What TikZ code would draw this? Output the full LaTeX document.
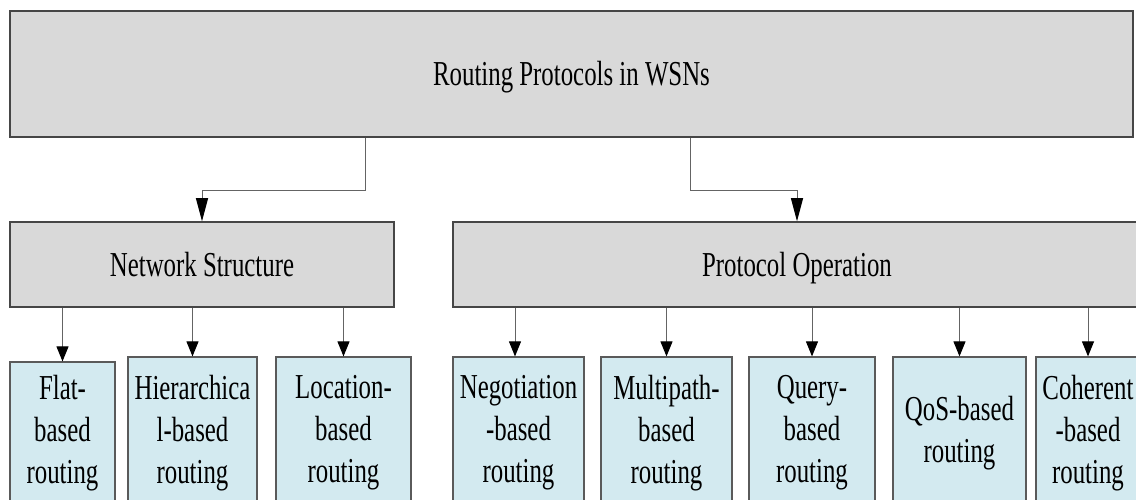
\documentclass[tikz,border=0pt]{standalone}
\usepackage{fontspec}
\setmainfont{Liberation Serif}[FakeStretch=0.71]
\usetikzlibrary{arrows.meta,calc}
\definecolor{boxgray}{RGB}{217,217,217}
\definecolor{leafblue}{RGB}{211,234,240}
\definecolor{edgegray}{RGB}{70,70,70}
\definecolor{leafedge}{RGB}{90,90,90}
\definecolor{wiregray}{RGB}{100,100,100}

\begin{document}
\begin{tikzpicture}[x=1pt,y=-1pt,
  every node/.style={font=\fontsize{35}{42}\selectfont},
  catbox/.style={draw=edgegray, line width=1.5pt, fill=boxgray, rectangle, inner sep=0pt,
                 text height=23pt, text depth=0pt},
  leafbox/.style={draw=leafedge, line width=1.2pt, fill=leafblue, rectangle,
                  inner sep=0pt, align=center, minimum height=152pt},
  wire/.style={draw=wiregray, line width=1pt},
  bigtip/.style={wire, -{Triangle[length=23pt,width=12pt,color=black]}},
  smalltip/.style={wire, -{Triangle[length=15pt,width=12pt,color=black]}},
]
\useasboundingbox (0,0) rectangle (1136,500);
\clip (0,0) rectangle (1136,500);

% root and the two classification criteria
\node[catbox, minimum width=1123pt, minimum height=126pt] (root) at (571.5,74) {Routing Protocols in WSNs};
\node[catbox, minimum width=384pt, minimum height=85pt] (net) at (202,264.5) {Network Structure};
\node[catbox, minimum width=688pt, minimum height=85pt] (proto) at (797,264.5) {Protocol Operation};

% leaf categories
\node[leafbox, minimum width=105pt, minimum height=143pt] (flat) at (62.5,433.5) {Flat-\\based\\routing};
\node[leafbox, minimum width=129pt] (hier) at (192.5,433) {Hierarchica\\l-based\\routing};
\node[leafbox, minimum width=135pt] (loc) at (343.5,433) {Location-\\based\\routing};
\node[leafbox, minimum width=131pt] (nego) at (518.5,433) {Negotiation\\-based\\routing};
\node[leafbox, minimum width=131pt] (multi) at (666.5,433) {Multipath-\\based\\routing};
\node[leafbox, minimum width=126pt] (query) at (812,433) {Query-\\based\\routing};
\node[leafbox, minimum width=133pt] (qos) at (959.5,433) {QoS-based\\routing};
\node[leafbox, minimum width=104pt] (coh) at (1088,433) {Coherent\\-based\\routing};

% elbow connectors from the root
\draw[bigtip] ([xshift=-206.5pt]root.south) |- ($(net.north)+(0,-31)$) -- (net.north);
\draw[bigtip] ([xshift=118.5pt]root.south) |- ($(proto.north)+(0,-31)$) -- (proto.north);

% drops into the leaves
\foreach \leaf in {flat,hier,loc}
  \draw[smalltip] (\leaf.north |- net.south) -- (\leaf.north);
\coordinate (negotip) at ($(nego.north)+(-3.5,0)$);
\draw[smalltip] (negotip |- proto.south) -- (negotip);
\foreach \leaf in {multi,query,qos,coh}
  \draw[smalltip] (\leaf.north |- proto.south) -- (\leaf.north);
\end{tikzpicture}
\end{document}
